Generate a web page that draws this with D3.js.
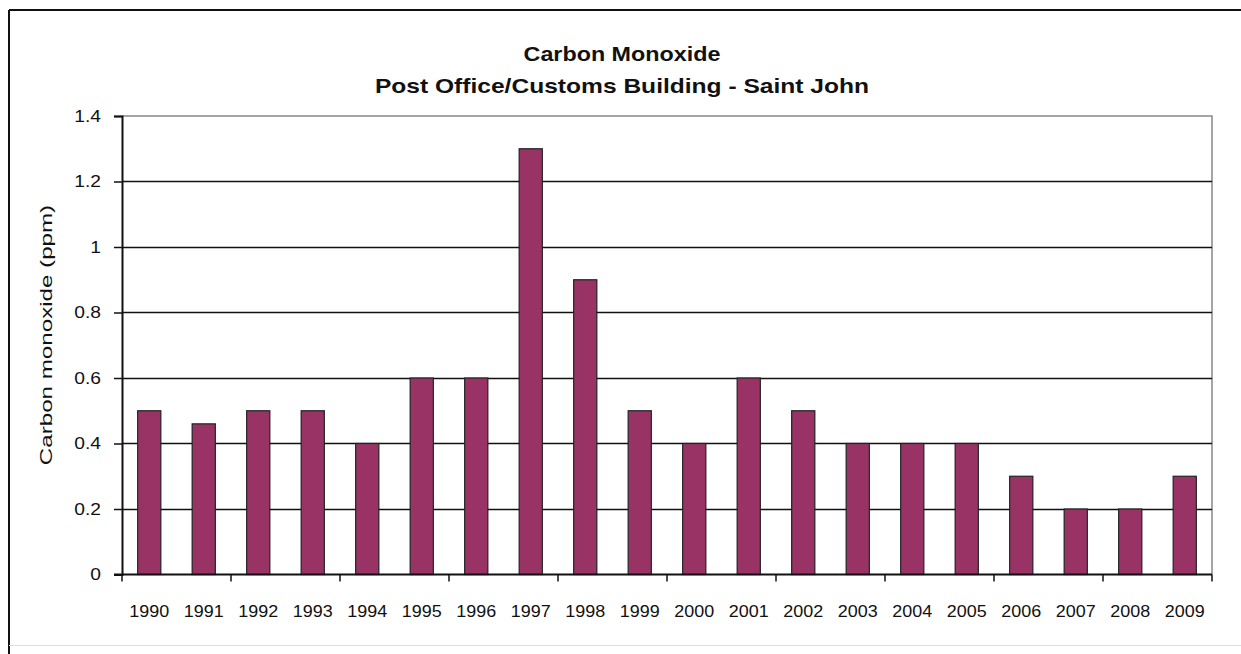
<!DOCTYPE html>
<html lang="en">
<head>
<meta charset="utf-8">
<title>Carbon Monoxide</title>
<script src="https://cdn.jsdelivr.net/npm/d3@7"></script>
<style>
  body { margin: 0; background: #fff; }
  text { font-family: "Liberation Sans", Arial, sans-serif; fill: #111; }
</style>
</head>
<body>
<div id="chart"></div>
<script>
// data
var years = ["1990","1991","1992","1993","1994","1995","1996","1997","1998","1999",
             "2000","2001","2002","2003","2004","2005","2006","2007","2008","2009"];
var coValues = [0.5, 0.46, 0.5, 0.5, 0.4, 0.6, 0.6, 1.3, 0.9, 0.5,
                0.4, 0.6, 0.5, 0.4, 0.4, 0.4, 0.3, 0.2, 0.2, 0.3];
var yTicks = [0, 0.2, 0.4, 0.6, 0.8, 1, 1.2, 1.4];
var yTickLabels = ["0", "0.2", "0.4", "0.6", "0.8", "1", "1.2", "1.4"];
var titleLines = ["Carbon Monoxide", "Post Office/Customs Building - Saint John"];
var yTitle = "Carbon monoxide (ppm)";

var W = 1241, H = 654;
var plot = {left: 122, right: 1212, top: 116, bottom: 574.5};

// the original text is drawn a bit wider than Arial, so stretch it sideways
function stretch(sel, k) {
  sel.each(function(d, i) {
    var f = typeof k === "function" ? k(d, i) : k;
    var len = this.getComputedTextLength();
    d3.select(this)
      .attr("textLength", len * f)
      .attr("lengthAdjust", "spacingAndGlyphs");
  });
}

var svg = d3.select("#chart").append("svg")
  .attr("width", W).attr("height", H);

// outer frame
svg.append("line").attr("x1", 9).attr("x2", 9).attr("y1", 10).attr("y2", H)
  .attr("stroke", "#111").attr("stroke-width", 2);
svg.append("line").attr("x1", 9).attr("x2", W).attr("y1", 10).attr("y2", 10)
  .attr("stroke", "#111").attr("stroke-width", 2);
svg.append("line").attr("x1", 9).attr("x2", W).attr("y1", 645.5).attr("y2", 645.5)
  .attr("stroke", "#ddd").attr("stroke-width", 1);

var x = d3.scaleBand()
  .domain(years)
  .range([plot.left, plot.right])
  .paddingInner(0.575)
  .paddingOuter(0.2875);

var y = d3.scaleLinear()
  .domain([0, 1.4])
  .range([plot.bottom, plot.top]);

// plot area right/top border (grey)
svg.append("path")
  .attr("d", "M" + plot.left + "," + plot.top + "H" + plot.right + "V" + plot.bottom)
  .attr("fill", "none").attr("stroke", "#888").attr("stroke-width", 1.5);

// gridlines
svg.append("g").selectAll("line")
  .data(yTicks.filter(function(d) { return d > 0 && d < 1.4; }))
  .enter().append("line")
  .attr("x1", plot.left).attr("x2", plot.right)
  .attr("y1", function(d) { return Math.round(y(d)) + 0.5; })
  .attr("y2", function(d) { return Math.round(y(d)) + 0.5; })
  .attr("stroke", "#111").attr("stroke-width", 1.5);

// bars
svg.append("g").selectAll("rect")
  .data(coValues)
  .enter().append("rect")
  .attr("x", function(d, i) { return x(years[i]); })
  .attr("width", x.bandwidth())
  .attr("y", function(d) { return y(d); })
  .attr("height", function(d) { return y(0) - y(d); })
  .attr("fill", "#993366")
  .attr("stroke", "#222")
  .attr("stroke-width", 1.2);

// y axis
var yAxis = d3.axisLeft(y)
  .tickValues(yTicks)
  .tickFormat(function(d, i) { return yTickLabels[i]; })
  .tickSize(8)
  .tickPadding(13);
var gy = svg.append("g")
  .attr("transform", "translate(" + plot.left + ",0)")
  .call(yAxis);
gy.select(".domain").attr("stroke", "#111").attr("stroke-width", 2);
gy.selectAll(".tick line").attr("stroke", "#111").attr("stroke-width", 1.5);
gy.selectAll(".tick text")
  .attr("font-family", "Liberation Sans, Arial, sans-serif")
  .attr("font-size", 16).attr("fill", "#222")
  .call(stretch, 1.2);

// x axis: ticks at every second category boundary
var step = x.step();
var boundaryTicks = d3.range(0, years.length + 1, 2);
svg.append("line")
  .attr("x1", plot.left - 8).attr("x2", plot.right)
  .attr("y1", plot.bottom).attr("y2", plot.bottom)
  .attr("stroke", "#111").attr("stroke-width", 2);
svg.append("g").selectAll("line")
  .data(boundaryTicks)
  .enter().append("line")
  .attr("x1", function(d) { return plot.left + d * step; })
  .attr("x2", function(d) { return plot.left + d * step; })
  .attr("y1", plot.bottom).attr("y2", plot.bottom + 7)
  .attr("stroke", "#111").attr("stroke-width", 1.5);
svg.append("g").selectAll("text")
  .data(years)
  .enter().append("text")
  .attr("x", function(d) { return x(d) + x.bandwidth() / 2; })
  .attr("y", 617)
  .attr("text-anchor", "middle")
  .attr("font-size", 16)
  .attr("fill", "#222")
  .text(function(d) { return d; })
  .call(stretch, 1.12);

// y axis title
svg.append("text")
  .attr("transform", "translate(52,335) rotate(-90)")
  .attr("text-anchor", "middle")
  .attr("font-size", 17)
  .attr("fill", "#222")
  .text(yTitle)
  .call(stretch, 1.42);

// chart title
svg.append("g").selectAll("text")
  .data(titleLines)
  .enter().append("text")
  .attr("x", 622)
  .attr("y", function(d, i) { return 61 + i * 32; })
  .attr("text-anchor", "middle")
  .attr("font-size", 21)
  .attr("font-weight", "bold")
  .text(function(d) { return d; })
  .call(stretch, function(d, i) { return i === 0 ? 1.11 : 1.17; });
</script>
</body>
</html>
